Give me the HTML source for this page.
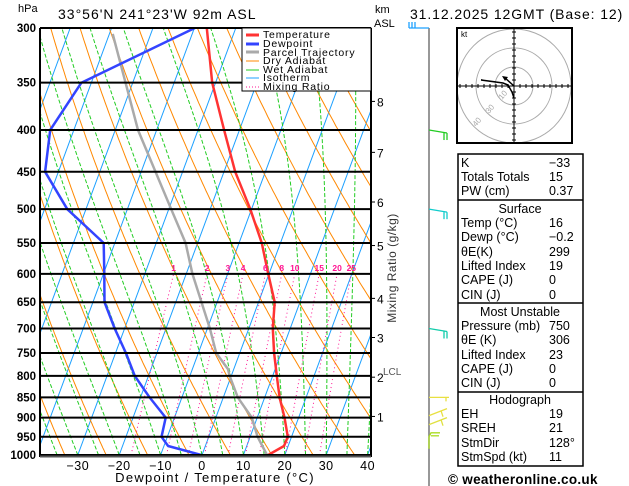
<!DOCTYPE html>
<html><head><meta charset="utf-8">
<style>
html,body{margin:0;padding:0;background:#fff;}
svg{display:block;font-family:"Liberation Sans",sans-serif;}
</style></head>
<body>
<svg id="chart" width="629" height="486" viewBox="0 0 629 486" xmlns="http://www.w3.org/2000/svg">
  <defs><clipPath id="plotclip"><rect x="40" y="28" width="331" height="427"/></clipPath></defs>
  <rect x="0" y="0" width="629" height="486" fill="#fff"/>
  <text x="18" y="12" font-size="11">hPa</text>
  <text x="58" y="19" font-size="14" letter-spacing="1">33°56'N  241°23'W  92m  ASL</text>
  <text x="375" y="13" font-size="11">km</text>
  <text x="374" y="27" font-size="11">ASL</text>
  <text x="410" y="19" font-size="14" letter-spacing="0.9">31.12.2025  12GMT  (Base: 12)</text>
  <g id="bg" clip-path="url(#plotclip)"></g>
  <g id="series" clip-path="url(#plotclip)"></g>
  <g id="axes"></g>
  <g>
    <rect x="242" y="28" width="129" height="63" fill="#fff" stroke="#000" stroke-width="1"/>
    <g font-size="10.5" letter-spacing="0.8">
      <line x1="246" y1="35" x2="259" y2="35" stroke="#ff3333" stroke-width="3"/><text x="263" y="38">Temperature</text>
      <line x1="246" y1="44" x2="259" y2="44" stroke="#3344ff" stroke-width="3"/><text x="263" y="47">Dewpoint</text>
      <line x1="246" y1="52" x2="259" y2="52" stroke="#aaaaaa" stroke-width="3"/><text x="263" y="56">Parcel Trajectory</text>
      <line x1="246" y1="61" x2="259" y2="61" stroke="#ff8800" stroke-width="1"/><text x="263" y="64">Dry Adiabat</text>
      <line x1="246" y1="70" x2="259" y2="70" stroke="#22cc22" stroke-width="1"/><text x="263" y="73">Wet Adiabat</text>
      <line x1="246" y1="78" x2="259" y2="78" stroke="#1ca0ff" stroke-width="1"/><text x="263" y="81">Isotherm</text>
      <line x1="246" y1="87" x2="259" y2="87" stroke="#ff1493" stroke-width="1" stroke-dasharray="1,2"/><text x="263" y="90">Mixing Ratio</text>
    </g>
  </g>
  <text transform="translate(396,268) rotate(-90)" text-anchor="middle" font-size="12" fill="#333" letter-spacing="0.5">Mixing Ratio (g/kg)</text>
  <text x="383" y="375" font-size="10" fill="#555">LCL</text>
  <g id="winds">
    <line x1="429" y1="28" x2="429" y2="486" stroke="#777" stroke-width="1.5"/>
  </g>
  <g>
    <rect x="457" y="28" width="115" height="115" fill="#fff" stroke="#000" stroke-width="2"/>
    <clipPath id="hodoclip"><rect x="458" y="29" width="113" height="113"/></clipPath>
    <g clip-path="url(#hodoclip)" fill="none" stroke="#aaa">
      <circle cx="514" cy="86" r="19"/><circle cx="514" cy="86" r="38"/><circle cx="514" cy="86" r="57"/>
    </g>
    <line x1="458" y1="86" x2="571" y2="86" stroke="#000"/>
    <line x1="514" y1="29" x2="514" y2="142" stroke="#000"/>
    <g id="hodoticks"></g>
    <text x="461" y="37" font-size="8">kt</text>
    <g font-size="8" fill="#aaa">
      <text transform="translate(502,100) rotate(-50)">10</text>
      <text transform="translate(489,114) rotate(-50)">30</text>
      <text transform="translate(476,127) rotate(-50)">40</text>
    </g>
    <polyline points="514,98 512,92 508,85 503,83 481,80 496,82" fill="none" stroke="#000" stroke-width="1.5"/>
    <line x1="514" y1="86" x2="504" y2="77" stroke="#000" stroke-width="1.5"/>
    <polygon points="502,76 508,77 505,81" fill="#000"/>
  </g>
  <g font-size="12.5">
    <rect x="458" y="154" width="125" height="312" fill="#fff" stroke="#000" stroke-width="1.5"/>
    <line x1="458" y1="200" x2="583" y2="200" stroke="#000" stroke-width="1.5"/>
    <line x1="458" y1="303" x2="583" y2="303" stroke="#000" stroke-width="1.5"/>
    <line x1="458" y1="392" x2="583" y2="392" stroke="#000" stroke-width="1.5"/>
    <g id="tablerows"></g>
  </g>
  <text x="448" y="484" font-size="13.5" font-weight="bold" letter-spacing="0.3">© weatheronline.co.uk</text>
</svg>
<script>
// ---- data ----
const tempP = [300,350,400,450,500,550,600,650,700,750,800,850,900,950,975,1000];
const tempT = [-37.0,-30.8,-23.7,-17.3,-10.3,-4.5,-0.2,3.9,5.8,8.3,11.0,13.6,16.6,19.1,19.0,16.0];
const dewP = [300,350,400,450,500,550,600,650,700,750,800,850,900,950,975,1000];
const dewT = [-39.9,-62.4,-65.7,-63.2,-54.5,-42.7,-39.8,-37.2,-32.4,-27.5,-23.3,-17.8,-12.1,-11.4,-9.0,-0.2];
const parcelP = [305,400,500,550,600,700,750,785,800,850,900,950,1000];
const parcelT = [-59.2,-44.5,-29.4,-22.9,-18.5,-9.4,-5.7,-1.4,-0.4,3.5,8.7,11.8,15.7];
const pressureTicks = [300,350,400,450,500,550,600,650,700,750,800,850,900,950,1000];
const tempTicks = [-30,-20,-10,0,10,20,30,40];
const kmLabels = ["1","2","3","4","5","6","7","8"];
const kmPressures = [897,803,718,643,554,490,426,369];
const mixRatios = [1,2,3,4,6,8,10,15,20,25];
const windP = [300,400,500,700,850,895,918,950];
const windColors = ["#1ca0ff","#22cc22","#11cccc","#11ccaa","#e8e040","#e8e040","#e0e040","#aadd22"];
const tableLabels = ["K","Totals Totals","PW (cm)","","Temp (°C)","Dewp (°C)","θE(K)","Lifted Index","CAPE (J)","CIN (J)","","Pressure (mb)","θE (K)","Lifted Index","CAPE (J)","CIN (J)","","EH","SREH","StmDir","StmSpd (kt)"];
const tableValues = ["−33","15","0.37","","16","−0.2","299","19","0","0","","750","306","23","0","0","","19","21","128°","11"];
const tableHeaders = ["","","","Surface","","","","","","","Most Unstable","","","","","","Hodograph","","","",""];

// ---- axes ----
const NS="http://www.w3.org/2000/svg";
const Y0=28, Y1=455, X0=40, X1=371;
function yP(p){return Y0+(Y1-Y0)*Math.log(p/300)/Math.log(1000/300);}
function xT(t,p){return 202+t*4.14+(Y1-yP(p))*0.37;}
function mk(tag,attrs,parent){const e=document.createElementNS(NS,tag);for(const k in attrs)e.setAttribute(k,attrs[k]);parent.appendChild(e);return e;}
const bg=document.getElementById('bg'), ser=document.getElementById('series'), ax=document.getElementById('axes');
function pts(ps,fn){return ps.map(p=>xT(fn(p),p).toFixed(1)+","+yP(p).toFixed(1)).join(" ");}
const pAll=[];for(let p=1000;p>=300;p-=5)pAll.push(p);

for(let t=-120;t<=40;t+=10){
  const l=mk('line',{x1:xT(t,1000),y1:Y1,x2:xT(t,300),y2:Y0,stroke:'#1ca0ff','stroke-width':1},bg);
  
  
}
for(let th=230;th<=480;th+=10){
  const l=mk('polyline',{points:pts(pAll,p=>th*Math.pow(p/1000,0.286)-273.15),fill:'none',stroke:'#ff8800','stroke-width':1},bg);
  
  
}
function es(tc){return 6.112*Math.exp(17.67*tc/(tc+243.5));}
for(let tw=-45;tw<=40;tw+=5){
  let T=tw+273.15;const arr=[];
  for(let p=1000;p>=300;p-=5){
    arr.push(xT(T-273.15,p).toFixed(1)+","+yP(p).toFixed(1));
    const e=es(T-273.15), rs=0.622*e/(p-e), Lv=2.5e6, Rd=287, Cp=1005;
    const dTdp=(Rd*T+Lv*rs)/(p*(Cp+Lv*Lv*rs*0.622/(Rd*T*T)));
    T-=dTdp*5;
  }
  const l=mk('polyline',{points:arr.join(" "),fill:'none',stroke:'#22cc22','stroke-width':1,'stroke-dasharray':'4,2'},bg);
  
  
}
function tdFromW(w,p){const e=(w/1000)*p/(0.622+w/1000);const a=Math.log(e/6.112);return 243.5*a/(17.67-a);}
mixRatios.forEach(w=>{
  const ps=[];for(let p=1000;p>=600;p-=10)ps.push(p);
  const l=mk('polyline',{points:pts(ps,p=>tdFromW(w,p)),fill:'none',stroke:'#ff1493','stroke-width':1,'stroke-dasharray':'1,3'},bg);
  
  
  const t=mk('text',{x:xT(tdFromW(w,600),600),y:yP(600)-3,'font-size':8.5,'font-weight':'bold',fill:'#ff1493','text-anchor':'middle'},ax);
  t.textContent=w;
  
  
});
function series(P,T,col,w,name){
  const l=mk('polyline',{points:P.map((p,i)=>xT(T[i],p).toFixed(1)+","+yP(p).toFixed(1)).join(" "),fill:'none',stroke:col,'stroke-width':w,'stroke-linejoin':'round'},ser);
  
  
}
series(parcelP,parcelT,'#aaaaaa',2.5,'parcel-trajectory-line');
series(dewP,dewT,'#3344ff',2.5,'dewpoint-line');
series(tempP,tempT,'#ff3333',2.5,'temperature-line');
pressureTicks.forEach(p=>{
  const y=yP(p);
  const l=mk('line',{x1:X0,y1:y,x2:X1,y2:y,stroke:'#000','stroke-width':2},ax);
  
  
  const t=mk('text',{x:36,y:y+4,'font-size':11.5,'font-weight':'bold','text-anchor':'end'},ax);
  t.textContent=p;
  
  
});
mk('line',{x1:X0,y1:Y0,x2:X0,y2:Y1+2,stroke:'#000','stroke-width':2},ax);
mk('line',{x1:X1,y1:Y0,x2:X1,y2:Y1+2,stroke:'#000','stroke-width':2},ax);
mk('line',{x1:X0,y1:Y1+1.5,x2:X1,y2:Y1+1.5,stroke:'#555','stroke-width':2},ax);
tempTicks.forEach(t=>{
  const tx=mk('text',{x:xT(t,1000),y:470,'font-size':12.5,'text-anchor':'middle','letter-spacing':'0.5'},ax);
  tx.textContent=(t<0?'−':'')+Math.abs(t);
  
  
});
const xt=mk('text',{x:215,y:482,'font-size':13,'text-anchor':'middle','letter-spacing':'1.3'},ax);
xt.textContent='Dewpoint / Temperature (°C)';


kmLabels.forEach((k,i)=>{
  const y=yP(kmPressures[i]);
  mk('line',{x1:X1,y1:y,x2:X1+4,y2:y,stroke:'#000'},ax);
  const t=mk('text',{x:377,y:y+5,'font-size':12},ax);
  t.textContent=k;
  
  
});
const wg=document.getElementById('winds');
windP.forEach((p,i)=>{
  const y=yP(p), c=windColors[i];
  const g=mk('g',{stroke:c,'stroke-width':1.3,fill:'none'},wg);
  
  
  if(i==0){mk('line',{x1:429,y1:y,x2:409,y2:y},g);mk('line',{x1:409,y1:y,x2:409,y2:y-6},g);mk('line',{x1:412,y1:y,x2:412,y2:y-6},g);mk('line',{x1:415,y1:y,x2:415,y2:y-6},g);}
  else if(i<=3){mk('line',{x1:429,y1:y,x2:447,y2:y+3},g);mk('line',{x1:447,y1:y+3,x2:447,y2:y+10},g);mk('line',{x1:444,y1:y+3,x2:444,y2:y+10},g);}
  else if(i==7){mk('polyline',{points:`429,${y+12} 429,${y} 431,${y-4} 440,${y-4}`},g);mk('line',{x1:431,y1:y-1,x2:439,y2:y-1},g);}
  else if(i==4){mk('line',{x1:429,y1:y,x2:449,y2:y},g);mk('line',{x1:446,y1:y,x2:446,y2:y+4},g);}
  else{mk('line',{x1:429,y1:y,x2:447,y2:y-7},g);mk('line',{x1:441,y1:y-5,x2:443,y2:y+1},g);}
});
const ht=document.getElementById('hodoticks');
for(let d=-54;d<=54;d+=6){if(d===0)continue;
  mk('line',{x1:514+d,y1:84,x2:514+d,y2:88,stroke:'#000'},ht);
  mk('line',{x1:512,y1:86+d,x2:516,y2:86+d,stroke:'#000'},ht);}
const tr=document.getElementById('tablerows');
const rowY=[167,181,195,213,227,241,256,270,284,299,316,330,344,359,373,387,404,418,432,447,461];
tableLabels.forEach((l,i)=>{
  if(tableHeaders[i]){const t=mk('text',{x:520,y:rowY[i],'text-anchor':'middle'},tr);t.textContent=tableHeaders[i];
    
    return;}
  const a=mk('text',{x:461,y:rowY[i]},tr);a.textContent=l;
  
  
  const b=mk('text',{x:549,y:rowY[i]},tr);b.textContent=tableValues[i];
  
  
});
</script>
</body></html>
